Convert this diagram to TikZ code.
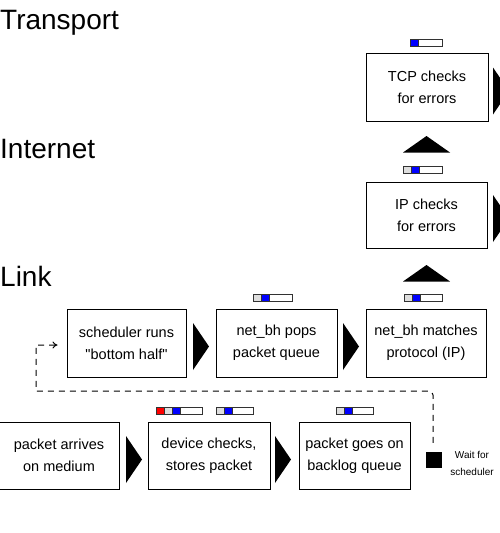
\documentclass[tikz,border=0pt]{standalone}
\usepackage{fontspec}
\setmainfont{Liberation Sans}
\usetikzlibrary{arrows.meta,calc}
\definecolor{segred}{RGB}{255,0,0}
\definecolor{segblue}{RGB}{0,0,255}
\definecolor{seggray}{RGB}{222,222,222}
\definecolor{barline}{RGB}{50,50,50}
\begin{document}
\begin{tikzpicture}[x=1pt,y=-1pt,
  stagebox/.style={draw=black, line width=1pt, fill=white, align=center, inner sep=0pt,
    font=\fontsize{14.5}{22}\selectfont},
  layer/.style={anchor=base west, inner sep=0pt, font=\fontsize{28}{30}\selectfont},
  barseg/.style={draw=barline, line width=0.8pt},
  flowtri/.style={fill=black},
  loop/.style={draw=black, line width=1pt, dash pattern=on 6pt off 5pt}
]
\useasboundingbox (0,0) rectangle (500,533);

% layer labels
\node[layer] (lT) at (0,29) {Transport};
\node[layer] (lI) at (0,158) {Internet};
\node[layer] (lL) at (0,286) {Link};

% boxes
\node[stagebox, minimum width=122pt, minimum height=68pt] (tcp) at (427,87) {TCP checks\\for errors};
\node[stagebox, minimum width=121pt, minimum height=66pt] (ip) at (426.5,215) {IP checks\\for errors};
\node[stagebox, minimum width=119pt, minimum height=68pt] (sched) at (126.5,343) {scheduler runs\\\textquotedbl bottom half\textquotedbl};
\node[stagebox, minimum width=121pt, minimum height=68pt] (pops) at (276.5,343) {net\_bh pops\\packet queue};
\node[stagebox, minimum width=120pt, minimum height=68pt] (match) at (426,343) {net\_bh matches\\protocol (IP)};
\node[stagebox, minimum width=120pt, minimum height=67pt] (arrive) at (59,455.5) {packet arrives\\on medium};
\node[stagebox, minimum width=122pt, minimum height=67pt] (device) at (209,455.5) {device checks,\\stores packet};
\node[stagebox, minimum width=111pt, minimum height=67pt] (backlog) at (354.5,455.5) {packet goes on\\backlog queue};

% flow triangles (right)
\foreach \x/\y in {193/346.5, 343/346.5, 126/459.5, 275/459.5, 493/91, 493/218.5}
  \fill[flowtri] (\x,\y-23.5) -- (\x+16,\y) -- (\x,\y+23.5) -- cycle;
% flow triangles (up)
\foreach \y in {136, 265}
  \fill[flowtri] (403,\y+16.5) -- (426.5,\y) -- (450,\y+16.5) -- cycle;

% queue bars
% TCP
\filldraw[barseg, fill=white] (410,39) rectangle (442,46);
\filldraw[barseg, fill=segblue] (410,39) rectangle (418,46);
% IP
\filldraw[barseg, fill=white] (403,166) rectangle (442,173);
\filldraw[barseg, fill=seggray] (403,166) rectangle (411,173);
\filldraw[barseg, fill=segblue] (411,166) rectangle (419,173);
% net_bh pops
\filldraw[barseg, fill=white] (253,294) rectangle (292,301);
\filldraw[barseg, fill=seggray] (253,294) rectangle (261,301);
\filldraw[barseg, fill=segblue] (261,294) rectangle (269,301);
% net_bh matches
\filldraw[barseg, fill=white] (404,294) rectangle (442,301);
\filldraw[barseg, fill=seggray] (404,294) rectangle (412,301);
\filldraw[barseg, fill=segblue] (412,294) rectangle (420,301);
% device (1)
\filldraw[barseg, fill=white] (156,407) rectangle (202,414);
\filldraw[barseg, fill=segred] (156,407) rectangle (164,414);
\filldraw[barseg, fill=seggray] (164,407) rectangle (172,414);
\filldraw[barseg, fill=segblue] (172,407) rectangle (180,414);
% device (2)
\filldraw[barseg, fill=white] (216,407) rectangle (253,414);
\filldraw[barseg, fill=seggray] (216,407) rectangle (224,414);
\filldraw[barseg, fill=segblue] (224,407) rectangle (232,414);
% backlog
\filldraw[barseg, fill=white] (336,407) rectangle (373,414);
\filldraw[barseg, fill=seggray] (336,407) rectangle (344,414);
\filldraw[barseg, fill=segblue] (344,407) rectangle (352,414);

% wait for scheduler
\node[fill=black, minimum size=16pt, inner sep=0pt] (wait) at (434,460) {};
\node[align=center, inner sep=0pt, font=\fontsize{10}{17}\selectfont] (waitlbl) at (472,463) {Wait for\\scheduler};

% dashed loop back to scheduler
\coordinate (loopR) at (433,391);
\coordinate (loopB) at (36,391);
\coordinate (loopL) at (36,345);
\draw[loop, -{To[length=5pt,width=7pt]}, shorten >=9pt]
  ([xshift=-1pt,yshift=9pt]wait.north) [rounded corners=4pt] -- (loopR) [sharp corners] -- (loopB) -- (loopL) -- (loopL -| sched.west);
\end{tikzpicture}
\end{document}
